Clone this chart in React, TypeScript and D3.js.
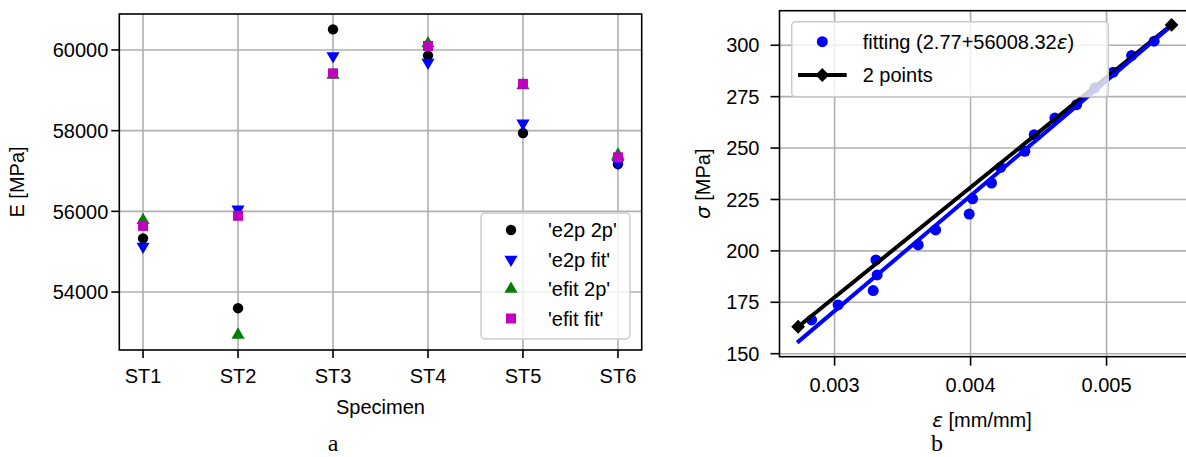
import * as d3 from "d3";

// panel a: Young's modulus per specimen
const specimens = ["ST1", "ST2", "ST3", "ST4", "ST5", "ST6"];
const e2p2p = [55330, 53600, 60510, 59860, 57940, 57170];
const e2pFit = [55130, 56050, 59850, 59690, 58180, 57200];
const efit2p = [55780, 52940, 59380, 60160, 59120, 57400];
const efitFit = [55640, 55890, 59420, 60100, 59160, 57340];
const eTicks = [54000, 56000, 58000, 60000];

// panel b: stress-strain fit
const fitStrain = [0.002831, 0.003026, 0.003304, 0.003313, 0.003284, 0.003615, 0.003743, 0.00399, 0.004015, 0.004154, 0.004221, 0.004399, 0.004468, 0.00462, 0.00478, 0.004914, 0.005049, 0.005184, 0.00535];
const fitStress = [166.4, 173.7, 195.6, 188.3, 180.7, 202.9, 210.2, 217.9, 225.3, 233.0, 240.6, 248.4, 256.5, 264.6, 271.1, 279.3, 286.9, 295.0, 302.0];
const fitA = 2.77;
const fitB = 56008.32;
const fitRange = [0.002725, 0.005475];
const twoStrain = [0.002732, 0.005478];
const twoStress = [163.1, 309.9];
const sTicks = [150, 175, 200, 225, 250, 275, 300];
const epsTicks = [0.003, 0.004, 0.005];

const FONT = "'Liberation Sans', Arial, sans-serif";
const SERIF = "'Liberation Serif', 'Times New Roman', serif";
const GRID = "#b0b0b0";

const Legend = ({ x, y, w, h }) => (
  <rect x={x} y={y} width={w} height={h} rx={4} fill="white" fillOpacity={0.8} stroke="#cccccc" strokeWidth={1.5} />
);

const PanelA = () => {
  const L = 119.3, R = 641.7, T = 14, B = 350;
  const x = d3.scaleLinear().domain([-0.25, 5.25]).range([L, R]);
  const y = d3.scaleLinear().domain([52564, 60891]).range([B, T]);
  const triUp = d3.symbol().type(d3.symbolTriangle).size(75)();
  const sq = 10;
  const legendRows = [230, 259.5, 289, 318.5];
  return (
    <g fontFamily={FONT} fontSize={20}>
      {specimens.map((s, i) => (
        <line key={"gx" + s} x1={x(i)} x2={x(i)} y1={T} y2={B} stroke={GRID} strokeWidth={1.6} />
      ))}
      {eTicks.map(t => (
        <line key={"gy" + t} x1={L} x2={R} y1={y(t)} y2={y(t)} stroke={GRID} strokeWidth={1.6} />
      ))}
      {e2p2p.map((v, i) => <circle key={"a" + i} cx={x(i)} cy={y(v)} r={5.2} fill="black" />)}
      {e2pFit.map((v, i) => (
        <path key={"b" + i} d={triUp} transform={`translate(${x(i)},${y(v)}) rotate(180)`} fill="#0000ff" />
      ))}
      {efit2p.map((v, i) => (
        <path key={"c" + i} d={triUp} transform={`translate(${x(i)},${y(v)})`} fill="#008000" />
      ))}
      {efitFit.map((v, i) => (
        <rect key={"d" + i} x={x(i) - sq / 2} y={y(v) - sq / 2} width={sq} height={sq} fill="#bf00bf" />
      ))}
      <rect x={L} y={T} width={R - L} height={B - T} fill="none" stroke="black" strokeWidth={1.6} />
      {eTicks.map(t => (
        <g key={"ty" + t}>
          <line x1={L - 8} x2={L} y1={y(t)} y2={y(t)} stroke="black" strokeWidth={1.6} />
          <text x={L - 11} y={y(t)} dy="0.36em" textAnchor="end">{t}</text>
        </g>
      ))}
      {specimens.map((s, i) => (
        <g key={"tx" + s}>
          <line x1={x(i)} x2={x(i)} y1={B} y2={B + 8} stroke="black" strokeWidth={1.6} />
          <text x={x(i)} y={383} textAnchor="middle">{s}</text>
        </g>
      ))}
      <text x={(L + R) / 2} y={414} textAnchor="middle">Specimen</text>
      <text transform={`translate(24,${(T + B) / 2}) rotate(-90)`} textAnchor="middle">E [MPa]</text>
      <Legend x={481} y={213} w={149} h={126} />
      <circle cx={511} cy={legendRows[0]} r={5.2} fill="black" />
      <path d={triUp} transform={`translate(511,${legendRows[1]}) rotate(180)`} fill="#0000ff" />
      <path d={triUp} transform={`translate(511,${legendRows[2]})`} fill="#008000" />
      <rect x={511 - sq / 2} y={legendRows[3] - sq / 2} width={sq} height={sq} fill="#bf00bf" />
      {["'e2p 2p'", "'e2p fit'", "'efit 2p'", "'efit fit'"].map((t, i) => (
        <text key={t} x={548} y={legendRows[i]} dy="0.36em">{t}</text>
      ))}
      <text x={333} y={451} textAnchor="middle" fontFamily={SERIF} fontSize={24}>a</text>
    </g>
  );
};

const PanelB = () => {
  const L = 779.5, R = 1190.2, T = 10.7, B = 356.7;
  const x = d3.scaleLinear().domain([0.002595, 0.005615]).range([L, R]);
  const y = d3.scaleLinear().domain([148.54, 316.8]).range([B, T]);
  const fitLine = d3.line().x(d => x(d)).y(d => y(fitA + fitB * d))(fitRange);
  const twoLine = d3.line().x(d => x(d)).y((d, i) => y(twoStress[i]))(twoStrain);
  const diamond = d3.symbol().type(d3.symbolSquare).size(95)();
  return (
    <g fontFamily={FONT} fontSize={20}>
      <defs>
        <clipPath id="clipB"><rect x={L} y={T} width={R - L} height={B - T} /></clipPath>
      </defs>
      {epsTicks.map(t => (
        <line key={"gx" + t} x1={x(t)} x2={x(t)} y1={T} y2={B} stroke={GRID} strokeWidth={1.6} />
      ))}
      {sTicks.map(t => (
        <line key={"gy" + t} x1={L} x2={R} y1={y(t)} y2={y(t)} stroke={GRID} strokeWidth={1.6} />
      ))}
      <g clipPath="url(#clipB)">
        {fitStrain.map((v, i) => <circle key={"p" + i} cx={x(v)} cy={y(fitStress[i])} r={5.5} fill="#0000ff" />)}
        <path d={twoLine} stroke="black" strokeWidth={4} fill="none" />
        <path d={fitLine} stroke="#0000ff" strokeWidth={4} fill="none" />
        {twoStrain.map((v, i) => (
          <path key={"dm" + i} d={diamond} transform={`translate(${x(v)},${y(twoStress[i])}) rotate(45)`} fill="black" />
        ))}
      </g>
      <rect x={L} y={T} width={R - L} height={B - T} fill="none" stroke="black" strokeWidth={1.6} />
      {sTicks.map(t => (
        <g key={"ty" + t}>
          <line x1={L - 9} x2={L} y1={y(t)} y2={y(t)} stroke="black" strokeWidth={1.6} />
          <text x={L - 20} y={y(t)} dy="0.36em" textAnchor="end">{t}</text>
        </g>
      ))}
      {epsTicks.map(t => (
        <g key={"tx" + t}>
          <line x1={x(t)} x2={x(t)} y1={B} y2={B + 9} stroke="black" strokeWidth={1.6} />
          <text x={x(t)} y={392} textAnchor="middle">{d3.format(".3f")(t)}</text>
        </g>
      ))}
      <text x={982} y={427} textAnchor="middle">
        <tspan fontFamily="'DejaVu Sans'" fontStyle="italic">ε</tspan> [mm/mm]
      </text>
      <text transform={`translate(710,${(T + B) / 2}) rotate(-90)`} textAnchor="middle">
        <tspan fontFamily="'DejaVu Sans'" fontStyle="italic">σ</tspan> [MPa]
      </text>
      <Legend x={791.7} y={21.7} w={316.6} h={75} />
      <circle cx={822.3} cy={41.7} r={5.5} fill="#0000ff" />
      <line x1={798} x2={846.7} y1={75} y2={75} stroke="black" strokeWidth={4} />
      <path d={diamond} transform="translate(822.3,75) rotate(45)" fill="black" />
      <text x={862.7} y={41.7} dy="0.36em">
        fitting (2.77+56008.32<tspan fontFamily="'DejaVu Sans'" fontStyle="italic">ε</tspan>)
      </text>
      <text x={862.7} y={75} dy="0.36em">2 points</text>
      <text x={937} y={451} textAnchor="middle" fontFamily={SERIF} fontSize={24}>b</text>
    </g>
  );
};

export default function App() {
  return (
    <svg width={1186} height={457} style={{ position: "absolute", left: 0, top: 0, background: "white" }}>
      <rect width={1186} height={457} fill="white" />
      <PanelA />
      <PanelB />
    </svg>
  );
}
